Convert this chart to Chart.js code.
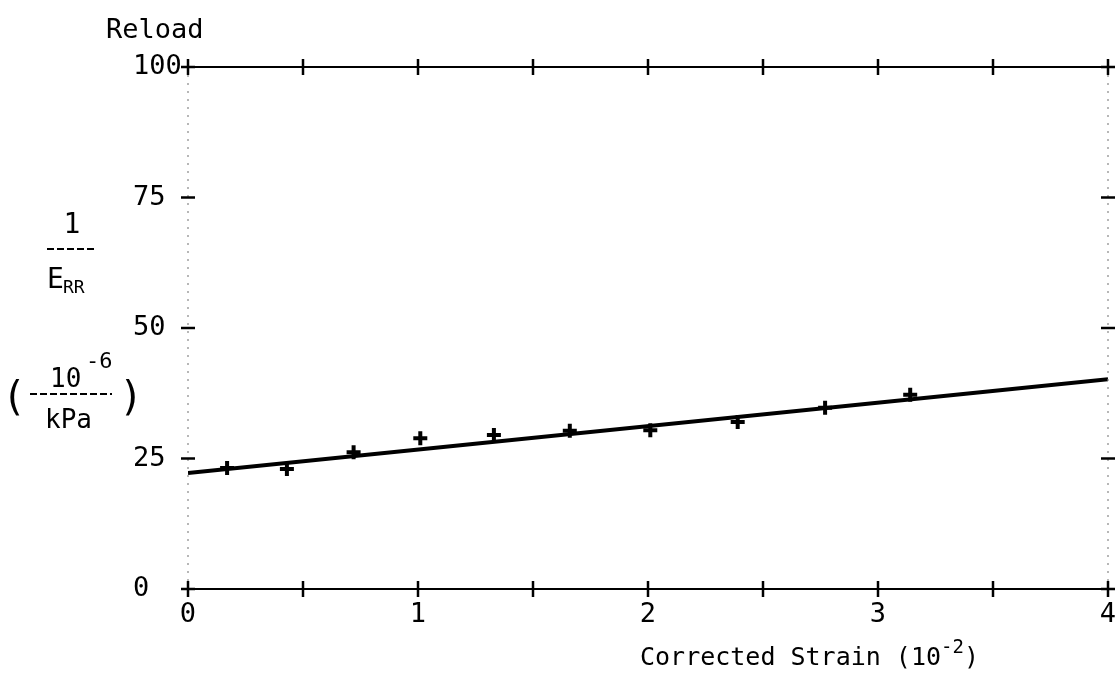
<!DOCTYPE html>
<html><head><meta charset="utf-8">
<script src="https://cdn.jsdelivr.net/npm/chart.js@4.4.1/dist/chart.umd.min.js"></script>
<style>html,body{margin:0;padding:0;background:#fff;overflow:hidden}#wrap{width:1119px;height:685px;position:relative}</style>
</head><body><div id="wrap"><canvas id="c" width="1119" height="685"></canvas></div>
<script>
const strain = [0.17, 0.43, 0.72, 1.01, 1.33, 1.66, 2.01, 2.39, 2.77, 3.14];
const invModulus = [23.2, 23.0, 26.2, 28.9, 29.5, 30.3, 30.4, 32.0, 34.7, 37.2];
const fitStrain = [0, 4];
const fitInvModulus = [22.2, 40.2];
const xTickValues = [0, 0.5, 1, 1.5, 2, 2.5, 3, 3.5, 4];
const xTickLabels = ['0', '', '1', '', '2', '', '3', '', '4'];
const yTickValues = [0, 25, 50, 75, 100];
const yTickLabels = ['0', '25', '50', '75', '100'];

const MONO = '"DejaVu Sans Mono", "Liberation Mono", monospace';

const framePlugin = {
  id: 'frame',
  afterDraw(chart) {
    const {ctx, chartArea: a, scales: {x, y}} = chart;
    const line = (x1, y1, x2, y2) => { ctx.beginPath(); ctx.moveTo(x1, y1); ctx.lineTo(x2, y2); ctx.stroke(); };
    ctx.save();
    ctx.lineCap = 'butt';
    // top border
    ctx.strokeStyle = '#000'; ctx.lineWidth = 2;
    line(a.left, a.top, a.right, a.top);
    // left and right borders (dotted)
    ctx.setLineDash([2, 6]); ctx.strokeStyle = '#888'; ctx.lineWidth = 1.2;
    line(a.left, a.top, a.left, a.bottom);
    line(a.right, a.top, a.right, a.bottom);
    ctx.setLineDash([]);
    // cross tick marks
    ctx.strokeStyle = '#000'; ctx.lineWidth = 2.5;
    xTickValues.forEach(v => {
      const px = x.getPixelForValue(v);
      line(px, a.top - 8, px, a.top + 8);
      line(px, a.bottom - 8, px, a.bottom + 8);
    });
    yTickValues.forEach(v => {
      const py = y.getPixelForValue(v);
      line(a.left - 7, py, a.left + 7, py);
      line(a.right - 7, py, a.right + 7, py);
    });
    // texts
    ctx.fillStyle = '#000';
    ctx.textBaseline = 'alphabetic';
    ctx.textAlign = 'left';
    ctx.font = '27px ' + MONO;
    ctx.fillText('Reload', 106, 38);

    // x axis title
    let tx = 640;
    const base = 665;
    ctx.font = '25px ' + MONO;
    const t1 = 'Corrected Strain (10';
    ctx.fillText(t1, tx, base); tx += ctx.measureText(t1).width;
    ctx.font = '19px ' + MONO;
    ctx.fillText('-2', tx, base - 12); tx += ctx.measureText('-2').width;
    ctx.font = '25px ' + MONO;
    ctx.fillText(')', tx, base);

    // y axis title
    ctx.textAlign = 'center';
    ctx.font = '28px ' + MONO;
    ctx.fillText('1', 72, 233);
    ctx.lineWidth = 2;
    ctx.setLineDash([7, 3]);
    line(47, 249, 97, 249);
    line(30, 394, 112, 394);
    ctx.setLineDash([]);
    ctx.textAlign = 'left';
    ctx.font = '28px ' + MONO;
    ctx.fillText('E', 47, 288);
    ctx.font = '18px ' + MONO;
    ctx.fillText('RR', 63, 293);
    ctx.font = '26px ' + MONO;
    ctx.fillText('10', 50, 387);
    ctx.font = '22px ' + MONO;
    ctx.fillText('-6', 86, 368);
    ctx.font = '26px ' + MONO;
    ctx.fillText('kPa', 45, 428);
    ctx.font = '40px ' + MONO;
    ctx.textAlign = 'center';
    ctx.fillText('(', 14, 410);
    ctx.fillText(')', 131, 410);
    ctx.restore();
  }
};

new Chart(document.getElementById('c'), {
  type: 'scatter',
  data: {
    datasets: [
      {
        label: 'Reload',
        data: strain.map((v, i) => ({x: v, y: invModulus[i]})),
        showLine: false,
        pointStyle: 'cross',
        pointRadius: 7,
        pointBorderWidth: 4,
        borderColor: '#000',
        backgroundColor: '#000'
      },
      {
        label: 'Fit',
        data: fitStrain.map((v, i) => ({x: v, y: fitInvModulus[i]})),
        showLine: true,
        pointRadius: 0,
        borderWidth: 4,
        borderColor: '#000',
        backgroundColor: '#000'
      }
    ]
  },
  options: {
    responsive: false,
    animation: false,
    devicePixelRatio: 1,
    layout: {padding: {left: 133, right: 11, top: 67, bottom: 0}},
    plugins: {legend: {display: false}, tooltip: {enabled: false}},
    scales: {
      x: {
        type: 'linear', min: 0, max: 4,
        afterBuildTicks: s => { s.ticks = xTickValues.map(v => ({value: v})); },
        afterFit: s => { s.height = 96; s.paddingLeft = 0; s.paddingRight = 0; },
        ticks: {
          autoSkip: false, maxRotation: 0, padding: 10, color: '#000',
          font: {family: MONO, size: 27},
          callback: (v, i) => xTickLabels[i]
        },
        grid: {display: false, drawTicks: false},
        border: {display: true, color: '#000', width: 2}
      },
      y: {
        type: 'linear', min: 0, max: 100,
        afterBuildTicks: s => { s.ticks = yTickValues.map(v => ({value: v})); },
        afterFit: s => { s.width = 55; s.paddingTop = 0; s.paddingBottom = 0; },
        ticks: {
          autoSkip: false, padding: 0, color: '#000', crossAlign: 'far',
          font: {family: MONO, size: 27},
          callback: (v, i) => yTickLabels[i]
        },
        grid: {display: false, drawTicks: false},
        border: {display: false}
      }
    }
  },
  plugins: [framePlugin]
});
</script>
</body></html>
